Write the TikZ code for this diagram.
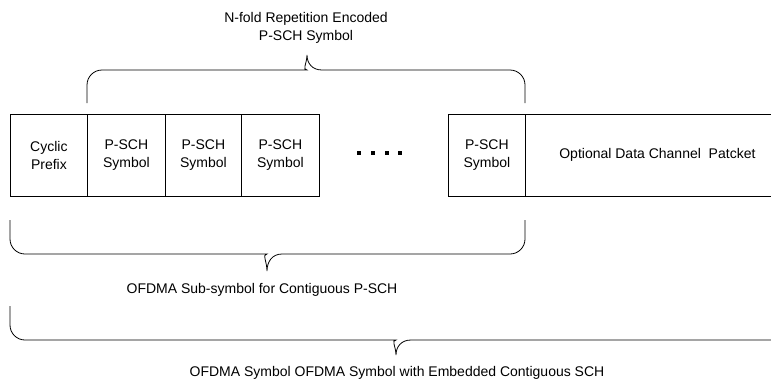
\documentclass[tikz,border=0pt]{standalone}
\usepackage{fontspec}
\setmainfont{Liberation Sans}
\begin{document}
\begin{tikzpicture}[x=1pt,y=-1pt,
  cell/.style={draw,line width=0.8pt,inner sep=0pt,minimum height=82pt,align=center,font=\fontsize{14}{18}\selectfont,anchor=west},
  lbl/.style={inner sep=0pt,align=center,font=\fontsize{14}{18}\selectfont},
  brace/.style={draw,line width=0.8pt},
  dotsq/.style={fill=black,draw=none,minimum size=3.2pt,inner sep=0pt}]
\useasboundingbox (0,0) rectangle (771,384);
\begin{scope}
\clip (0,0) rectangle (771,384);
% cells
\node[cell,minimum width=77pt] (cp) at (10,155) {Cyclic\\Prefix};
\node[cell,minimum width=78pt] (s1) at (87,155) {P-SCH\\Symbol};
\node[cell,minimum width=76pt] (s2) at (165,155) {P-SCH\\Symbol};
\node[cell,minimum width=78pt] (s3) at (241,155) {P-SCH\\Symbol};
\node[cell,minimum width=77pt] (sn) at (448,155) {P-SCH\\Symbol};
\node[cell,minimum width=264pt] (data) at (525,155) {Optional Data Channel~~Patcket};
% dots
\node[dotsq] (d1) at (359,153) {};
\node[dotsq] (d2) at (373,153) {};
\node[dotsq] (d3) at (387,153) {};
\node[dotsq] (d4) at (400,153) {};
% top brace
\draw[brace,rounded corners=15pt] (87,103) -- (87,70) -- (292,70) [sharp corners]
  .. controls (302,70) and (307,63) .. (307,55)
  .. controls (307,63) and (312,70) .. (322,70) [rounded corners=15pt] -- (525,70) -- (525,103);
% bottom brace 1
\draw[brace,rounded corners=15pt] (10,220) -- (10,254) -- (252,254) [sharp corners]
  .. controls (262,254) and (267,262) .. (267,271)
  .. controls (267,262) and (272,254) .. (282,254) [rounded corners=15pt] -- (525,254) -- (525,220);
% bottom brace 2
\draw[brace,rounded corners=15pt] (10,306) -- (10,340) -- (381,340) [sharp corners]
  .. controls (391,340) and (396,347) .. (396,355)
  .. controls (396,347) and (401,340) .. (411,340) -- (790,340);
\end{scope}
% labels
\node[lbl] (top) at (306,28) {N-fold Repetition Encoded\\P-SCH Symbol};
\node[lbl] (sub) at (262,290) {OFDMA Sub-symbol for Contiguous P-SCH};
\node[lbl] (sym) at (397,373) {OFDMA Symbol OFDMA Symbol with Embedded Contiguous SCH};
\end{tikzpicture}
\end{document}
